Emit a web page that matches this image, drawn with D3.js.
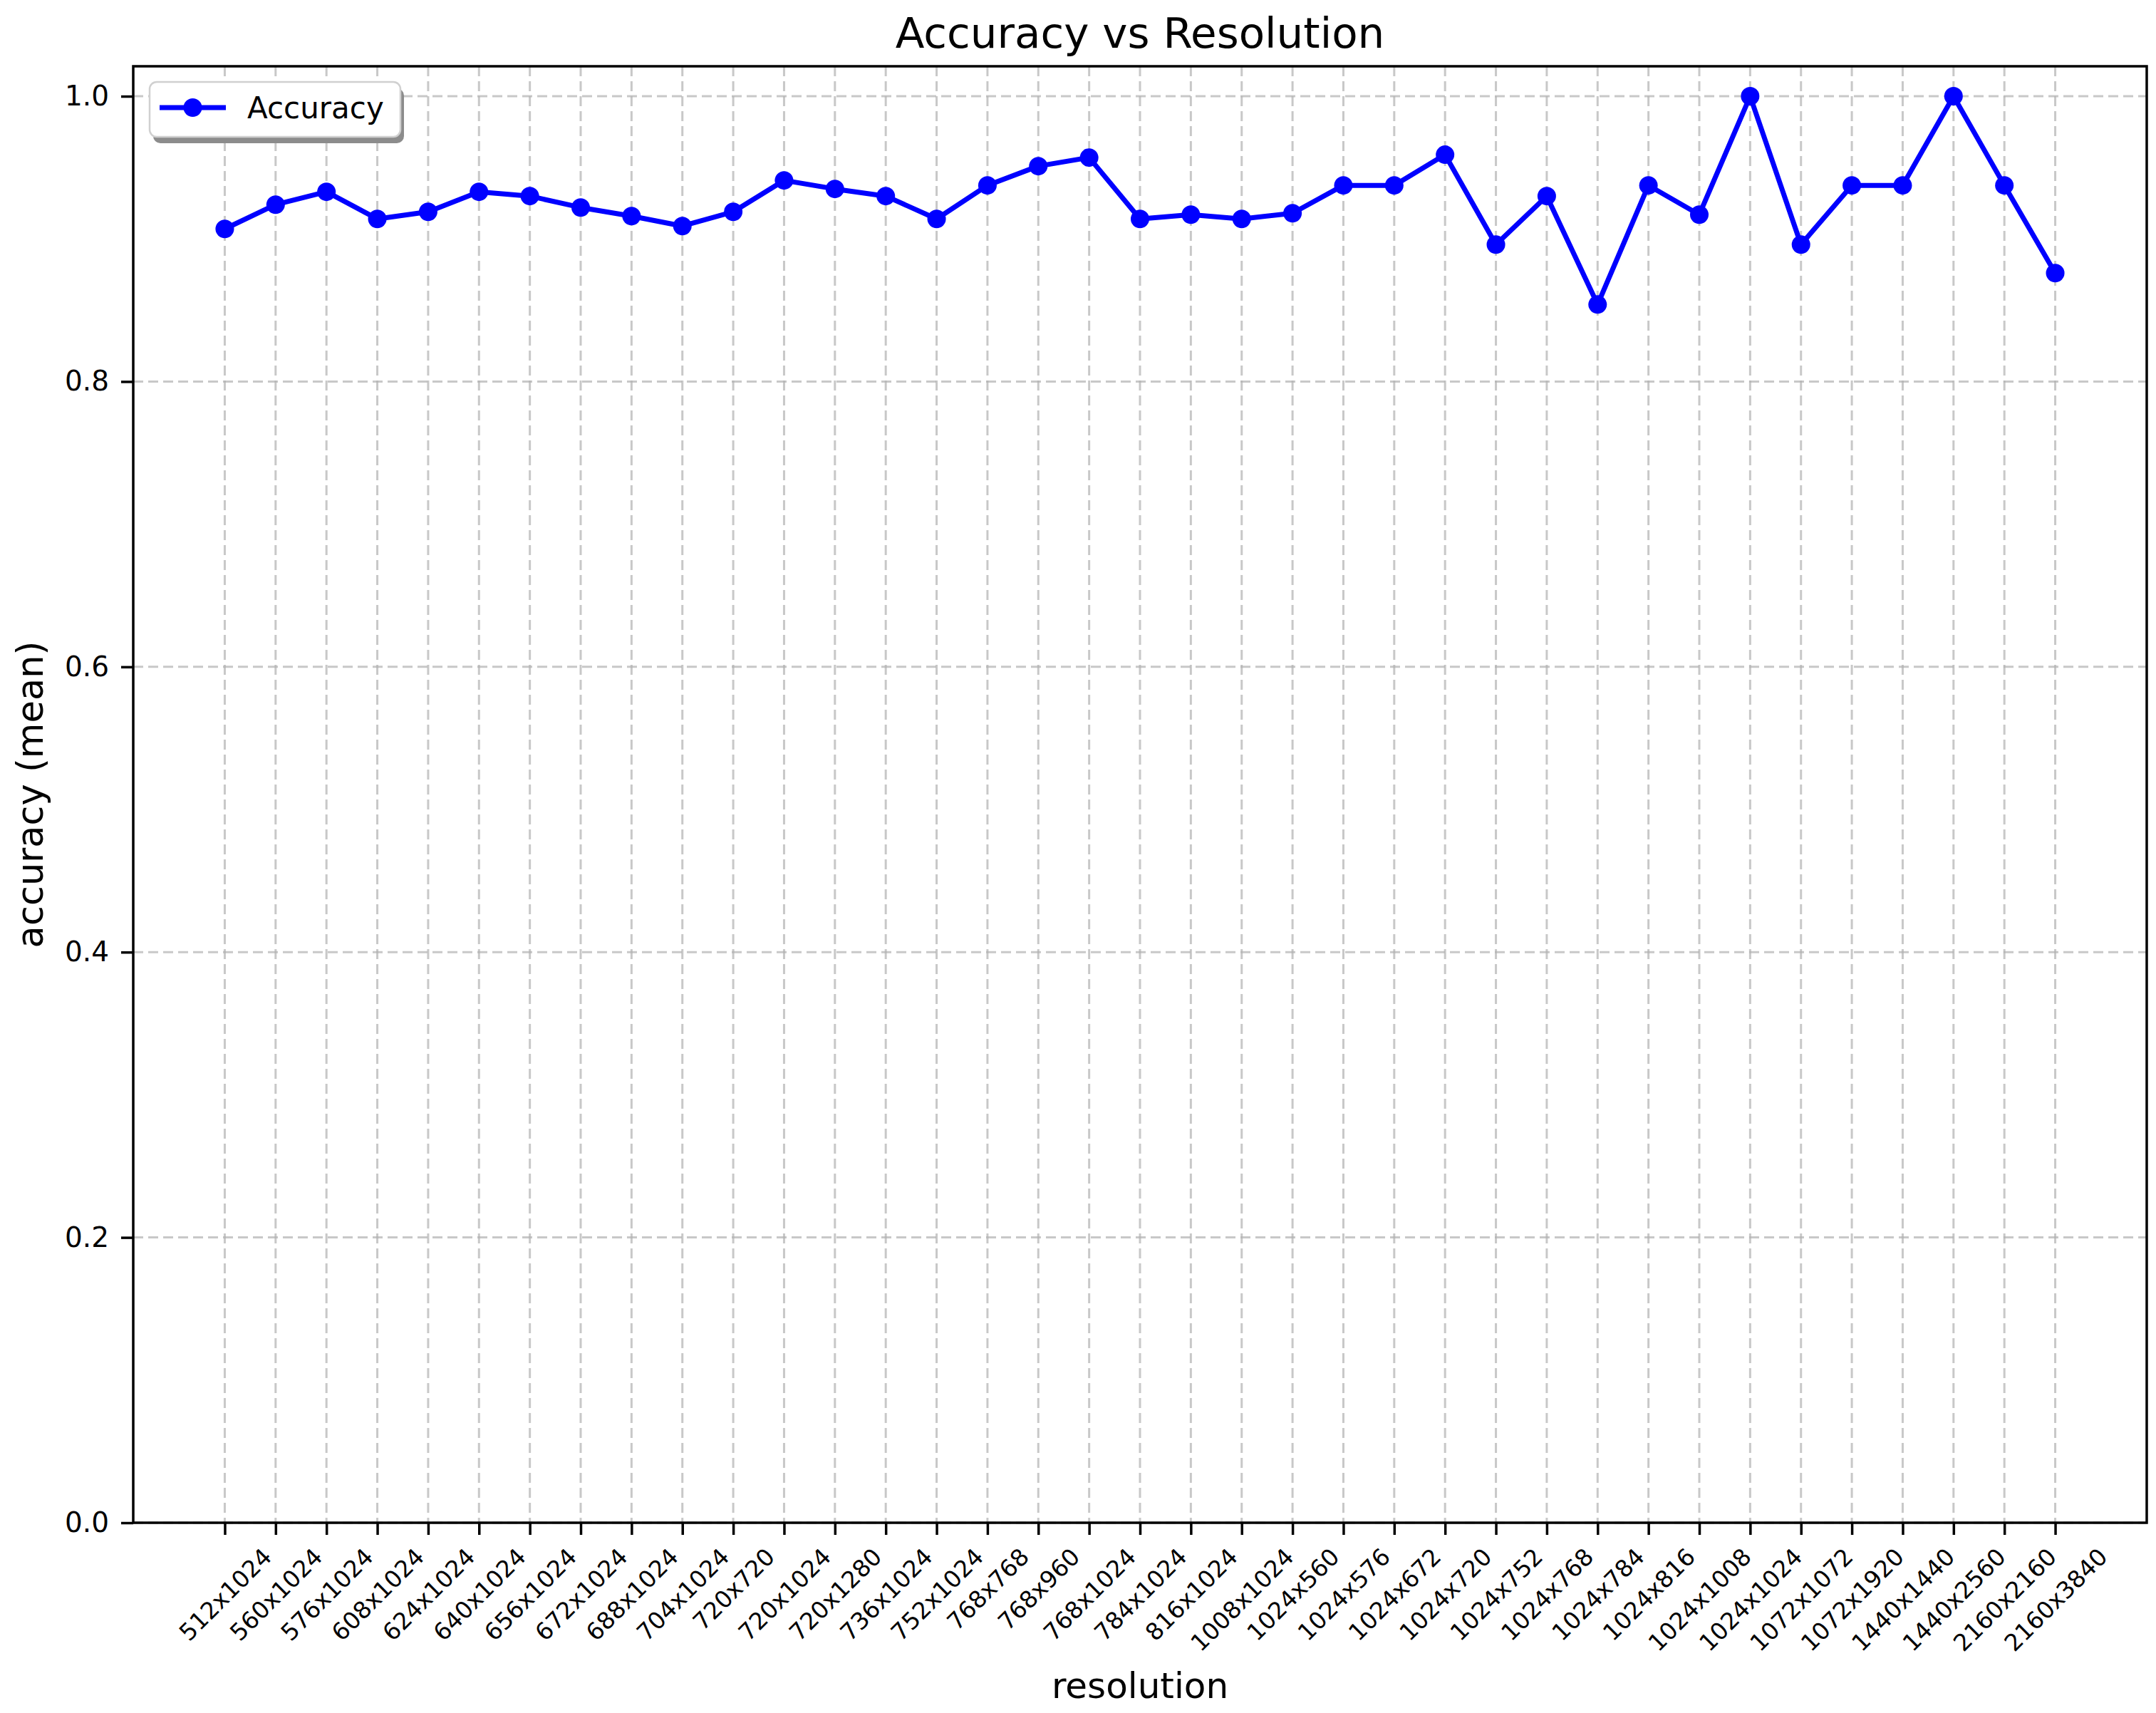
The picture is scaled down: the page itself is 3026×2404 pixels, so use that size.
<!DOCTYPE html>
<html>
<head>
<meta charset="utf-8">
<script src="https://cdn.jsdelivr.net/npm/d3@7/dist/d3.min.js"></script>
<style>
  html, body { margin: 0; padding: 0; background: #fff; }
  svg { display: block; }
  text { font-family: "DejaVu Sans", sans-serif; fill: #000; }
</style>
</head>
<body>
<script>
const categories = ["512x1024","560x1024","576x1024","608x1024","624x1024","640x1024","656x1024","672x1024","688x1024","704x1024","720x720","720x1024","720x1280","736x1024","752x1024","768x768","768x960","768x1024","784x1024","816x1024","1008x1024","1024x560","1024x576","1024x672","1024x720","1024x752","1024x768","1024x784","1024x816","1024x1008","1024x1024","1072x1072","1072x1920","1440x1440","1440x2560","2160x2160","2160x3840"];
const accuracy = [0.907,0.924,0.933,0.914,0.919,0.933,0.930,0.922,0.916,0.909,0.919,0.941,0.935,0.930,0.914,0.9375,0.951,0.957,0.914,0.917,0.914,0.918,0.9375,0.9375,0.959,0.896,0.930,0.854,0.9375,0.917,1.0,0.896,0.9375,0.9375,1.0,0.9375,0.876];
const yTicks = [0.0, 0.2, 0.4, 0.6, 0.8, 1.0];
const titleText = "Accuracy vs Resolution";
const xLabel = "resolution";
const yLabel = "accuracy (mean)";
const seriesName = "Accuracy";

(function() {
const W = 3026, H = 2404;
const pL = 187, pR = 3013, pT = 93, pB = 2137;
const blue = "#0000ff";

const svg = d3.select("body").append("svg").attr("width", W).attr("height", H);
svg.append("rect").attr("width", W).attr("height", H).attr("fill", "#fff");

const x = d3.scalePoint().domain(categories).range([pL, pR]).padding(1.8);
const y = d3.scaleLinear().domain([0, 1.021]).range([pB, pT]);

// grid
const grid = svg.append("g");
grid.selectAll("line.gx").data(categories).join("line")
  .attr("x1", d => x(d)).attr("x2", d => x(d))
  .attr("y1", pT).attr("y2", pB)
  .attr("stroke", "#b0b0b0").attr("stroke-opacity", 0.7)
  .attr("stroke-width", 3).attr("stroke-dasharray", "14,7");
grid.selectAll("line.gy").data(yTicks).join("line")
  .attr("x1", pL).attr("x2", pR)
  .attr("y1", d => y(d)).attr("y2", d => y(d))
  .attr("stroke", "#b0b0b0").attr("stroke-opacity", 0.7)
  .attr("stroke-width", 3).attr("stroke-dasharray", "14,7");

// line + markers
const line = d3.line().x((d, i) => x(categories[i])).y(d => y(d));
svg.append("path").datum(accuracy)
  .attr("d", line).attr("fill", "none")
  .attr("stroke", blue).attr("stroke-width", 7)
  .attr("stroke-linejoin", "round").attr("stroke-linecap", "round");
svg.append("g").selectAll("circle").data(accuracy).join("circle")
  .attr("cx", (d, i) => x(categories[i])).attr("cy", d => y(d))
  .attr("r", 13).attr("fill", blue);

// x axis
const xTickFont = 33;
const xAxis = svg.append("g").attr("transform", `translate(0,${pB})`)
  .call(d3.axisBottom(x).tickSize(17).tickSizeOuter(0));
xAxis.select(".domain").remove();
xAxis.selectAll(".tick line").attr("stroke", "#000").attr("stroke-width", 3.5);
xAxis.selectAll(".tick text")
  .attr("font-size", xTickFont)
  .attr("fill", "#000")
  .attr("text-anchor", "middle")
  .attr("x", 0).attr("y", 0).attr("dy", "0.36em")
  .each(function() {
    const L = this.getComputedTextLength();
    const h = xTickFont * 0.73;
    const off = (L + h) / (2 * Math.SQRT2);
    d3.select(this).attr("transform", `translate(0,${17 + 16 + off}) rotate(-45)`);
  });

// y axis
const yAxis = svg.append("g").attr("transform", `translate(${pL},0)`)
  .call(d3.axisLeft(y).tickValues(yTicks).tickSize(17).tickPadding(17).tickFormat(d3.format(".1f")));
yAxis.select(".domain").remove();
yAxis.selectAll(".tick line").attr("stroke", "#000").attr("stroke-width", 3.5);
yAxis.selectAll(".tick text").attr("font-size", 39).attr("fill", "#000");

// spines
svg.append("rect").attr("x", pL).attr("y", pT)
  .attr("width", pR - pL).attr("height", pB - pT)
  .attr("fill", "none").attr("stroke", "#000").attr("stroke-width", 3.5);

// title & labels
svg.append("text").attr("x", (pL + pR) / 2).attr("y", 67)
  .attr("text-anchor", "middle").attr("font-size", 59.5).text(titleText);
svg.append("text").attr("x", (pL + pR) / 2).attr("y", 2383)
  .attr("text-anchor", "middle").attr("font-size", 50).text(xLabel);
svg.append("text").attr("transform", `translate(60,${(pT + pB) / 2}) rotate(-90)`)
  .attr("text-anchor", "middle").attr("font-size", 51).text(yLabel);

// legend
const lg = svg.append("g");
lg.append("rect").attr("x", 215).attr("y", 124).attr("width", 352).attr("height", 77)
  .attr("rx", 10).attr("fill", "#8c8c8c");
lg.append("rect").attr("x", 210).attr("y", 115).attr("width", 352).attr("height", 77)
  .attr("rx", 10).attr("fill", "#fff").attr("stroke", "#d0d0d0").attr("stroke-width", 2.5);
lg.append("line").attr("x1", 224).attr("x2", 317).attr("y1", 151).attr("y2", 151)
  .attr("stroke", blue).attr("stroke-width", 7);
lg.append("circle").attr("cx", 270.5).attr("cy", 151).attr("r", 13).attr("fill", blue);
lg.append("text").attr("x", 347).attr("y", 166).attr("font-size", 42).text(seriesName);
})();
</script>
</body>
</html>
